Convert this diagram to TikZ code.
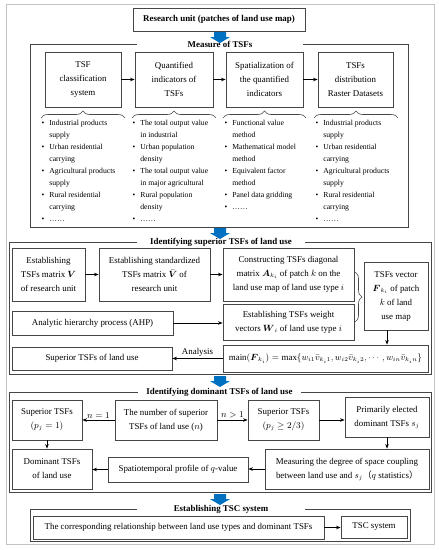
\documentclass[tikz,border=0pt]{standalone}
\usepackage{amsmath,amssymb}
\usepackage{fontspec}
\setmainfont{Liberation Serif}
\newfontfamily\cjk{Noto Sans CJK SC}
\usetikzlibrary{arrows.meta,decorations.pathreplacing}

\definecolor{arrowblue}{RGB}{0,112,192}
\definecolor{linegray}{RGB}{70,70,70}
\definecolor{framegray}{RGB}{195,195,195}

\begin{document}
\begin{tikzpicture}[x=1pt,y=-1pt,
  box/.style={draw=linegray,line width=0.8pt,align=center,inner sep=1pt,
    font=\fontsize{8.9}{14}\selectfont},
  secframe/.style={draw=linegray,line width=0.8pt},
  sectitle/.style={fill=white,inner sep=0pt,minimum height=9pt,
    font=\fontsize{8.9}{11}\selectfont\bfseries},
  arr/.style={-{Stealth[length=4.5pt,width=3.5pt]},line width=0.8pt},
  brc/.style={decorate,decoration={brace,amplitude=7pt},line width=0.6pt,draw=linegray},
  blist/.style={anchor=north west,inner sep=0pt,font=\fontsize{7.7}{12}\selectfont},
  bluearrow/.style={fill=arrowblue},
  lbl/.style={font=\fontsize{8.9}{11}\selectfont,inner sep=1.5pt}]

\useasboundingbox (0,0) rectangle (439,550);
\draw[framegray,line width=0.8pt] (6,4) rectangle (434,544);

% Research unit
\node[box,minimum width=172,minimum height=23,font=\fontsize{8.9}{11}\selectfont\bfseries]
  (unit) at (219,19.5) {Research unit (patches of land use map)};

% Measure of TSFs
\draw[secframe] (30,44) rectangle (408,227);
\node[sectitle,minimum width=166] (measure) at (220,44) {Measure of TSFs};

\node[box,minimum width=76,minimum height=55] (classsys) at (83,79.5)
  {TSF\\ classification\\ system};
\node[box,minimum width=78,minimum height=55] (quant) at (174,79.5)
  {Quantified\\ indicators of\\ TSFs};
\node[box,minimum width=77,minimum height=55] (spatial) at (264.5,79.5)
  {Spatialization of\\ the quantified\\ indicators};
\node[box,minimum width=75,minimum height=55] (raster) at (355.5,79.5)
  {TSFs\\ distribution\\ Raster Datasets};

\draw[arr] (classsys) -- (quant);
\draw[arr] (quant) -- (spatial);
\draw[arr] (spatial) -- (raster);

% braces
\draw[brc] (41,118) -- (125,118);
\draw[brc] (132,118) -- (216,118);
\draw[brc] (223,118) -- (306,118);
\draw[brc] (314,118) -- (398,118);

% lists
\node[blist] (list1) at (41.5,117) {\begin{tabular}{@{}l@{\hspace{5pt}}l@{}}
\textbullet & Industrial products\\
 & supply\\
\textbullet & Urban residential\\
 & carrying\\
\textbullet & Agricultural products\\
 & supply\\
\textbullet & Rural residential\\
 & carrying\\
\textbullet & ……
\end{tabular}};
\node[blist] (list2) at (132.5,117) {\begin{tabular}{@{}l@{\hspace{5pt}}l@{}}
\textbullet & The total output value\\
 & in industrial\\
\textbullet & Urban population\\
 & density\\
\textbullet & The total output value\\
 & in major agricultural\\
\textbullet & Rural population\\
 & density\\
\textbullet & ……
\end{tabular}};
\node[blist] (list3) at (224.5,117) {\begin{tabular}{@{}l@{\hspace{5pt}}l@{}}
\textbullet & Functional value\\
 & method\\
\textbullet & Mathematical model\\
 & method\\
\textbullet & Equivalent factor\\
 & method\\
\textbullet & Panel data gridding\\
\textbullet & ……
\end{tabular}};
\node[blist] (list4) at (315.5,117) {\begin{tabular}{@{}l@{\hspace{5pt}}l@{}}
\textbullet & Industrial products\\
 & supply\\
\textbullet & Urban residential\\
 & carrying\\
\textbullet & Agricultural products\\
 & supply\\
\textbullet & Rural residential\\
 & carrying\\
\textbullet & ……
\end{tabular}};

% Identifying superior TSFs
\draw[secframe] (9,242) rectangle (431,374);
\node[sectitle,minimum width=168] (superior) at (221,242) {Identifying superior TSFs of land use};

\node[box,minimum width=73,minimum height=53] (matV) at (48.5,274.5)
  {Establishing\\ TSFs matrix $\boldsymbol{V}$\\ of research unit};
\node[box,minimum width=111,minimum height=53] (stdV) at (154.5,274.5)
  {Establishing standardized\\ TSFs matrix $\bar{\boldsymbol{V}}$ of\\ research unit};
\node[box,minimum width=131,minimum height=53] (diagA) at (288.5,274.5)
  {Constructing TSFs diagonal\\ matrix $\boldsymbol{A}_{k_i}$ of patch $k$ on the\\ land use map of land use type $i$};
\node[box,minimum width=131,minimum height=36] (weightW) at (288.5,322)
  {Establishing TSFs weight\\ vectors $\boldsymbol{W}_i$ of land use type $i$};
\node[box,minimum width=64,minimum height=68] (vecF) at (396,296)
  {TSFs vector\\ $\boldsymbol{F}_{k_i}$ of patch\\ $k$ of land\\ use map};
\node[box,minimum width=161,minimum height=24] (ahp) at (92.5,323)
  {Analytic hierarchy process (AHP)};
\node[box,minimum width=160,minimum height=23] (supland) at (92,358.5)
  {Superior TSFs of land use};
\node[box,minimum width=205,minimum height=27] (mainF) at (325.5,358.5)
  {$\mathrm{main}(\boldsymbol{F}_{k_i})=\max\{w_{i1}\bar{v}_{k_i1},w_{i2}\bar{v}_{k_i2},\cdots,w_{in}\bar{v}_{k_in}\}$};

\draw[arr] (matV) -- (stdV);
\draw[arr] (stdV) -- (diagA);
\draw[arr] (ahp.east) -- (ahp.east -| weightW.west);
\draw[brc] (355,272) -- (355,322);
\draw[arr] ([xshift=-9pt]vecF.south) -- ([xshift=-9pt]vecF.south |- mainF.north);
\draw[arr] (mainF.west) -- node[lbl,above] {Analysis} (supland.east);

% Identifying dominant TSFs
\draw[secframe] (9,392) rectangle (431,492);
\node[sectitle,minimum width=163] (dominant) at (219.5,392) {Identifying dominant TSFs of land use};

\node[box,minimum width=70,minimum height=40] (supone) at (47,420)
  {Superior TSFs\\ $(p_j=1)$};
\node[box,minimum width=102,minimum height=40] (number) at (166,420)
  {The number of superior\\ TSFs of land use ($n$)};
\node[box,minimum width=71,minimum height=40] (suptwo) at (283.5,420)
  {Superior TSFs\\ $(p_j\geq 2/3)$};
\node[box,minimum width=84,minimum height=40] (elected) at (387,417)
  {Primarily elected\\ dominant TSFs $s_j$};
\node[box,minimum width=80,minimum height=40] (domland) at (52,469)
  {Dominant TSFs\\ of land use};
\node[box,minimum width=140,minimum height=25] (profile) at (178,469.5)
  {Spatiotemporal profile of $q$-value};
\node[box,minimum width=164,minimum height=40] (coupling) at (347,469)
  {Measuring the degree of space coupling\\ between land use and $s_j${\cjk （}$q$ statistics{\cjk ）}};

\draw[arr] (number.west) -- node[lbl,above] {$n=1$} (supone.east);
\draw[arr] (number.east) -- node[lbl,above] {$n>1$} (suptwo.west);
\draw[arr] (suptwo.east) -- (suptwo.east -| elected.west);
\draw[arr] (elected.south) -- (elected.south |- coupling.north);
\draw[arr] (coupling.west) -- (coupling.west -| profile.east);
\draw[arr] (profile.west) -- (profile.west -| domland.east);
\draw[arr] (supone.south) -- (supone.south |- domland.north);

% Establishing TSC system
\draw[secframe] (30,509) rectangle (410,541);
\node[sectitle,minimum width=168] (tscsys) at (221,509) {Establishing TSC system};

\node[box,minimum width=291,minimum height=23] (relation) at (178.5,527.5)
  {The corresponding relationship between land use types and dominant TSFs};
\node[box,minimum width=66,minimum height=22] (tsc) at (374,527)
  {TSC system};
\draw[arr] (relation.east) -- (relation.east -| tsc.west);

% blue block arrows
\fill[bluearrow] (214,32) -- ++(12,0) -- ++(0,5) -- ++(4,0) -- ++(-10,6) -- ++(-10,-6) -- ++(4,0) -- cycle;
\fill[bluearrow] (214,228) -- ++(12,0) -- ++(0,5) -- ++(4,0) -- ++(-10,6) -- ++(-10,-6) -- ++(4,0) -- cycle;
\fill[bluearrow] (214,376) -- ++(12,0) -- ++(0,5) -- ++(4,0) -- ++(-10,6) -- ++(-10,-6) -- ++(4,0) -- cycle;
\fill[bluearrow] (214,494) -- ++(12,0) -- ++(0,5) -- ++(4,0) -- ++(-10,6) -- ++(-10,-6) -- ++(4,0) -- cycle;

\end{tikzpicture}
\end{document}
